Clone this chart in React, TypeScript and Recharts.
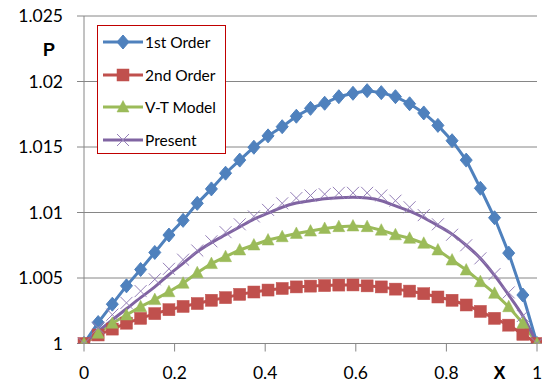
import React from 'react';
import { LineChart, Line, XAxis, YAxis, CartesianGrid, Legend } from 'recharts';

const xValues = [
  0, 0.03125, 0.0625, 0.09375, 0.125, 0.15625, 0.1875, 0.21875, 0.25, 0.28125, 0.3125,
  0.34375, 0.375, 0.40625, 0.4375, 0.46875, 0.5, 0.53125, 0.5625, 0.59375, 0.625,
  0.65625, 0.6875, 0.71875, 0.75, 0.78125, 0.8125, 0.84375, 0.875, 0.90625, 0.9375,
  0.96875, 1,
];

const firstOrder = [
  1.0, 1.0016, 1.003, 1.0044, 1.00565, 1.00695, 1.00828, 1.0094, 1.0107, 1.0118, 1.013,
  1.014, 1.01498, 1.01585, 1.01655, 1.01735, 1.01795, 1.01834, 1.01884, 1.0191, 1.0193,
  1.01915, 1.01884, 1.0183, 1.0176, 1.01665, 1.01548, 1.014, 1.01185, 1.0096, 1.0069,
  1.0037, 1.0,
];

const secondOrder = [
  1.0, 1.00065, 1.0011, 1.00155, 1.00192, 1.00228, 1.00258, 1.00283, 1.00305, 1.0033, 1.0035,
  1.00375, 1.00393, 1.00408, 1.0042, 1.00432, 1.00438, 1.00442, 1.00446, 1.00447, 1.0044,
  1.00432, 1.00415, 1.004, 1.0038, 1.00355, 1.0033, 1.00294, 1.00245, 1.00192, 1.0014,
  1.0007, 1.0,
];

const vtModel = [
  1.0, 1.00078, 1.00154, 1.00218, 1.00281, 1.00335, 1.00395, 1.0046, 1.0054, 1.0061, 1.00663,
  1.00714, 1.00752, 1.0079, 1.00815, 1.0084, 1.00858, 1.00878, 1.00892, 1.00897, 1.00892,
  1.00865, 1.0083, 1.00803, 1.00765, 1.00714, 1.00637, 1.00561, 1.00472, 1.00383, 1.00281,
  1.00154, 1.0,
];

const presentCurve = [
  1.0, 1.00092, 1.0018, 1.00265, 1.0035, 1.00432, 1.00525, 1.00612, 1.007, 1.0077, 1.0083,
  1.0089, 1.0095, 1.00995, 1.0104, 1.01072, 1.0109, 1.01105, 1.01113, 1.01116, 1.0111,
  1.0109, 1.0105, 1.0101, 1.0096, 1.009, 1.00835, 1.0075, 1.0065, 1.0052, 1.0037,
  1.0021, 1.0,
];

const presentMarks = [
  1.0, 1.0012, 1.0022, 1.0031, 1.004, 1.0049, 1.0057, 1.0064, 1.0071, 1.0078, 1.0085,
  1.0091, 1.0097, 1.0102, 1.0107, 1.0111, 1.0113, 1.0114, 1.0115, 1.0115, 1.0115,
  1.0113, 1.0109, 1.0104, 1.0098, 1.0091, 1.0083, 1.0075, 1.0065, 1.0053, 1.0039,
  1.0021, 1.0,
];

const xTicks = [0, 0.2, 0.4, 0.6, 0.8, 1];
const yTicks = [1, 1.005, 1.01, 1.015, 1.02, 1.025];
const seriesNames = ['1st Order', '2nd Order', 'V-T Model', 'Present'];

const BLUE = '#4F81BD';
const RED = '#C0504D';
const GREEN = '#9BBB59';
const PURPLE = '#8064A2';
const GRID = '#868686';

const data = xValues.map((x, i) => ({
  x,
  first: firstOrder[i],
  second: secondOrder[i],
  vt: vtModel[i],
  curve: presentCurve[i],
  marks: presentMarks[i],
}));

const Diamond = ({ cx, cy }: { cx: number; cy: number }) => (
  <polygon
    points={`${cx},${cy - 7} ${cx + 6},${cy} ${cx},${cy + 7} ${cx - 6},${cy}`}
    fill={BLUE}
    stroke={BLUE}
    strokeWidth={1}
  />
);
const Square = ({ cx, cy }: { cx: number; cy: number }) => (
  <rect x={cx - 6} y={cy - 6} width={12} height={12} fill={RED} stroke={RED} strokeWidth={0.5} />
);
const Triangle = ({ cx, cy }: { cx: number; cy: number }) => (
  <polygon
    points={`${cx},${cy - 6.5} ${cx + 6},${cy + 5} ${cx - 6},${cy + 5}`}
    fill={GREEN}
    stroke={GREEN}
    strokeWidth={0.5}
  />
);
const Cross = ({ cx, cy }: { cx: number; cy: number }) => (
  <g stroke="#9580B8" strokeWidth={1}>
    <line x1={cx - 6} y1={cy - 6} x2={cx + 6} y2={cy + 6} />
    <line x1={cx - 6} y1={cy + 6} x2={cx + 6} y2={cy - 6} />
  </g>
);

const makeDot = (Shape: any, prefix: string) => (props: any) => {
  if (props.cx == null || props.cy == null) return <g key={`${prefix}-${props.index}`} />;
  return (
    <g key={`${prefix}-${props.index}`}>
      <Shape cx={props.cx} cy={props.cy} />
    </g>
  );
};

const legendShapes = [Diamond, Square, Triangle, Cross];
const legendColors = [BLUE, RED, GREEN, PURPLE];

const LegendBox = () => (
  <div
    style={{
      width: 129,
      height: 129,
      boxSizing: 'border-box',
      border: '1.5px solid #C00000',
      background: '#fff',
      position: 'relative',
      fontFamily: 'Lato, "Open Sans", sans-serif',
      fontSize: 15.5,
      color: '#000',
    }}
  >
    {seriesNames.map((name, i) => {
      const Shape = legendShapes[i];
      return (
        <div
          key={name}
          style={{
            position: 'absolute',
            left: 4,
            top: 6 + i * 32.5,
            height: 20,
            display: 'flex',
            alignItems: 'center',
            whiteSpace: 'nowrap',
          }}
        >
          <svg width={42} height={20} style={{ display: 'block' }}>
            <line x1={1} y1={10} x2={41} y2={10} stroke={legendColors[i]} strokeWidth={3} />
            <Shape cx={21} cy={10} />
          </svg>
          <span style={{ marginLeft: 1 }}>{name}</span>
        </div>
      );
    })}
  </div>
);

const tickStyle = { fill: '#000', fontSize: 17.5, fontFamily: 'Lato, "Open Sans", sans-serif' };

export default function App() {
  return (
    <div style={{ position: 'absolute', left: 0, top: 0, width: 542, height: 383, background: '#fff' }}>
      <LineChart width={542} height={383} data={data} margin={{ top: 16, right: 5, left: 0, bottom: 9.5 }}>
        <CartesianGrid vertical={false} stroke={GRID} strokeWidth={1} />
        <XAxis
          dataKey="x"
          type="number"
          domain={[0, 1]}
          ticks={xTicks}
          height={30}
          tickSize={8}
          tickMargin={15}
          axisLine={{ stroke: GRID }}
          tickLine={{ stroke: GRID }}
          tick={tickStyle}
          interval={0}
          label={{
            content: () => (
              <text x={499.5} y={379} textAnchor="middle" fontFamily="'Liberation Sans', Arial, sans-serif" fontWeight="bold" fontSize={18} fill="#000">
                X
              </text>
            ),
          }}
        />
        <YAxis
          type="number"
          domain={[1, 1.025]}
          ticks={yTicks}
          width={84}
          tickSize={7}
          tickMargin={14}
          axisLine={{ stroke: GRID }}
          tickLine={{ stroke: GRID }}
          tick={tickStyle}
          interval={0}
          allowDataOverflow
          label={{
            content: () => (
              <text x={49} y={56} textAnchor="middle" fontFamily="'Liberation Sans', Arial, sans-serif" fontWeight="bold" fontSize={18} fill="#000">
                P
              </text>
            ),
          }}
        />
        <Legend
          layout="horizontal"
          verticalAlign="middle"
          align="center"
          wrapperStyle={{ left: 97, top: 25, width: 129, height: 129 }}
          content={() => <LegendBox />}
        />
        <Line dataKey="first" type="linear" stroke={BLUE} strokeWidth={3} dot={makeDot(Diamond, 'd')} activeDot={false} isAnimationActive={false} />
        <Line dataKey="second" type="linear" stroke={RED} strokeWidth={3} dot={makeDot(Square, 's')} activeDot={false} isAnimationActive={false} />
        <Line dataKey="vt" type="linear" stroke={GREEN} strokeWidth={3} dot={makeDot(Triangle, 't')} activeDot={false} isAnimationActive={false} />
        <Line dataKey="marks" type="linear" stroke="none" dot={makeDot(Cross, 'c')} activeDot={false} isAnimationActive={false} />
        <Line dataKey="curve" type="monotone" stroke={PURPLE} strokeWidth={3} dot={false} activeDot={false} isAnimationActive={false} />
      </LineChart>
    </div>
  );
}
